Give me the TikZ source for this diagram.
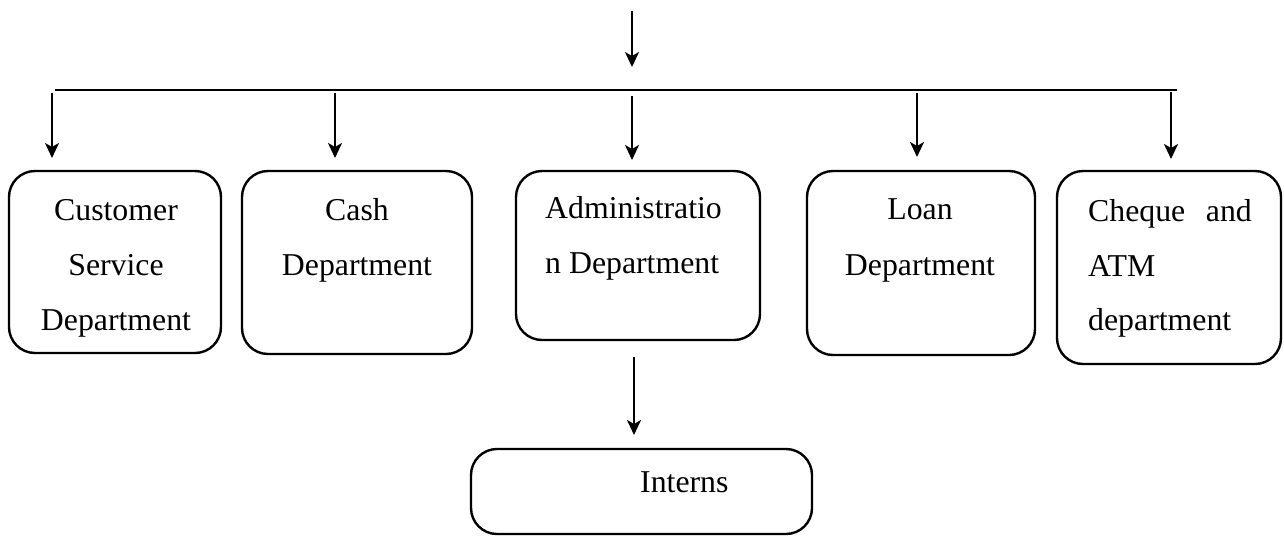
\documentclass[tikz,border=0pt]{standalone}
\usepackage{fontspec}
\setmainfont{Liberation Serif}
\usetikzlibrary{arrows.meta}
\begin{document}
\begin{tikzpicture}[x=1pt,y=-1pt,
  box/.style={draw=black,line width=2.4pt,rounded corners=26pt,inner sep=0pt},
  arr/.style={draw=black,line width=2.2pt,-{Stealth[length=15pt,width=14pt,inset=4pt]}},
  bar/.style={draw=black,line width=2.6pt},
  lbl/.style={inner sep=0pt,anchor=base,font=\fontsize{31.8}{38}\selectfont},
  lbll/.style={lbl,anchor=base west},
  lblr/.style={lbl,anchor=base east}]
\useasboundingbox (0,0) rectangle (1284,536);
% boxes
\node[box,minimum width=212pt,minimum height=182pt] (cs) at (115,262) {};
\node[box,minimum width=230pt,minimum height=183pt] (cash) at (357,262.5) {};
\node[box,minimum width=244pt,minimum height=169pt] (adm) at (638,255.5) {};
\node[box,minimum width=228pt,minimum height=184pt] (loan) at (921,263) {};
\node[box,minimum width=224pt,minimum height=193pt] (chq) at (1169,267.5) {};
\node[box,minimum width=341pt,minimum height=85pt] (int) at (641.5,491.5) {};
% labels
\node[lbl] (cs1) at (116,220) {Customer};
\node[lbl] (cs2) at (116,275) {Service};
\node[lbl] (cs3) at (116,330) {Department};
\node[lbl] (ca1) at (357,220) {Cash};
\node[lbl] (ca2) at (357,275) {Department};
\node[lbll] (ad1) at (545,218) {Administratio};
\node[lbll] (ad2) at (545,273) {n Department};
\node[lbl] (lo1) at (920,219) {Loan};
\node[lbl] (lo2) at (920,275) {Department};
\node[lbll] (ch1) at (1088,221) {Cheque};
\node[lblr] (ch2) at (1252,221) {and};
\node[lbll] (ch3) at (1088,276) {ATM};
\node[lbll] (ch4) at (1088,330) {department};
\node[lbll] (in1) at (640,492) {Interns};
% connector coordinates
\coordinate (top0) at (632,11);
\coordinate (top1) at (632,67);
\coordinate (barL) at (55,90);
\coordinate (barR) at (1177,90);
\coordinate (s1) at (52,93);   \coordinate (e1) at (52,158);
\coordinate (s2) at (335,93);  \coordinate (e2) at (335,158);
\coordinate (s3) at (632,96);  \coordinate (e3) at (632,160);
\coordinate (s4) at (917,93);  \coordinate (e4) at (917,157);
\coordinate (s5) at (1171,92); \coordinate (e5) at (1171,159);
\coordinate (s6) at (634,357); \coordinate (e6) at (634,435);
% connectors
\draw[arr] (top0) -- (top1);
\draw[bar] (barL) -- (barR);
\draw[arr] (s1) -- (e1);
\draw[arr] (s2) -- (e2);
\draw[arr] (s3) -- (e3);
\draw[arr] (s4) -- (e4);
\draw[arr] (s5) -- (e5);
\draw[arr] (s6) -- (e6);
\end{tikzpicture}
\end{document}
